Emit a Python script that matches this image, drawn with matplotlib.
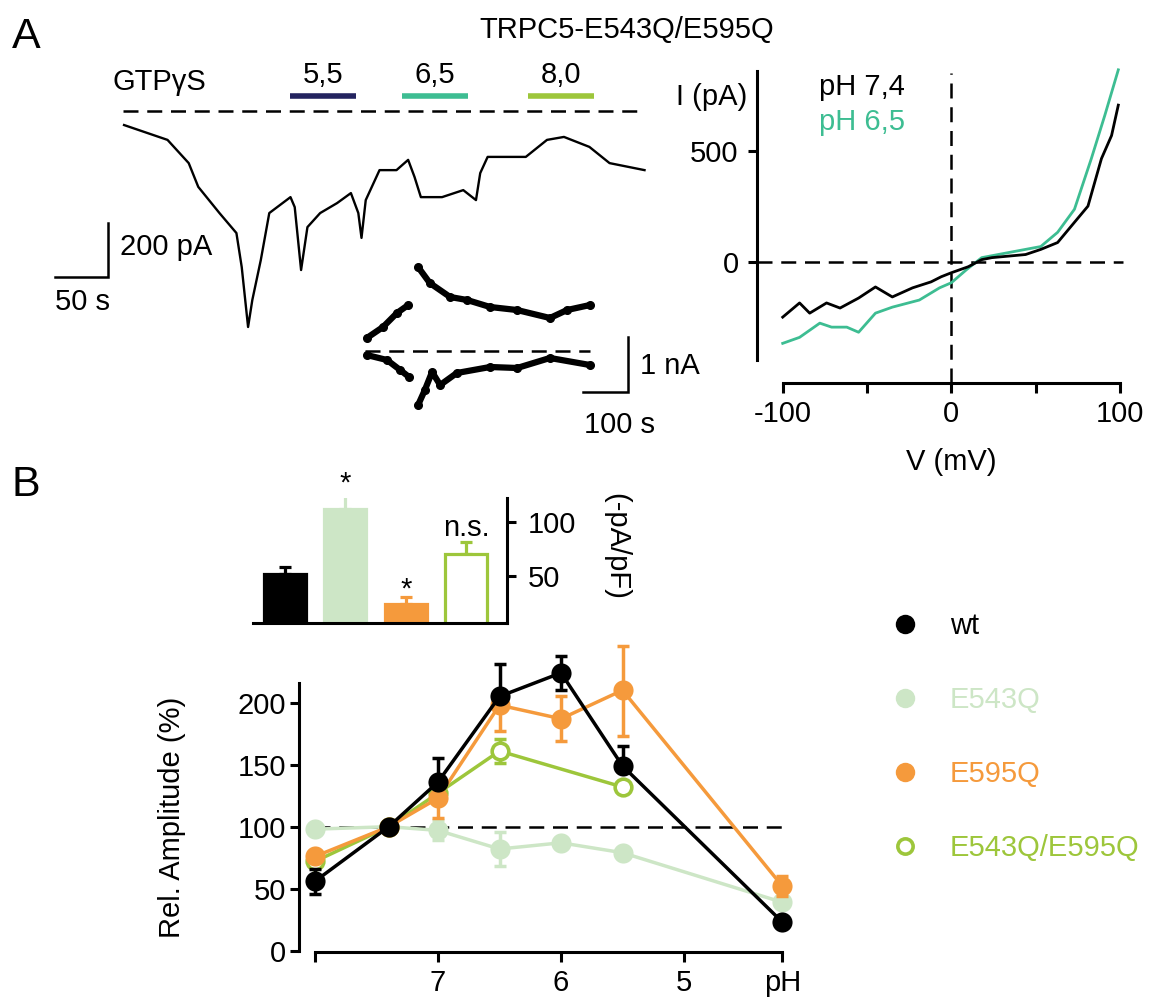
import numpy as np
import matplotlib.pyplot as plt
from matplotlib.lines import Line2D

FIG_W, FIG_H = 1151, 999      # 出力サイズ [px]
DPI = 100
FONT_SIZE = 21
LINE_WIDTH = 2.2
DASH = (0, (6, 3.5))

COLOR_WT = "black"
COLOR_E543Q = "#cde6c6"
COLOR_E595Q = "#f59a3c"
COLOR_DOUBLE = "#9dc63b"
COLOR_PH65 = "#3dbd92"

# --- A: GTPgS induced current of TRPC5-E543Q/E595Q ---
trace_t = [1, 42, 62, 71, 91, 107, 112, 118, 122, 130, 138, 158, 162, 168, 174, 186,
           202, 215, 222, 225, 229, 242, 258, 269, 275, 281, 301, 321, 333, 337, 344,
           380, 400, 416, 440, 459, 492]          # s
trace_i = [-52, -107, -193, -281, -378, -452, -578, -800, -700, -552, -378, -319, -356,
           -589, -430, -378, -341, -304, -378, -470, -330, -219, -219, -181, -244, -319,
           -319, -293, -330, -230, -170, -170, -107, -96, -133, -193, -219]   # pA

ph_labels = ["5,5", "6,5", "8,0"]
ph_start = [158, 263, 382]    # s
ph_stop = [220, 325, 444]
ph_colors = ["#23235f", COLOR_PH65, COLOR_DOUBLE]

# currents at +100 mV (outward) and -100 mV (inward)
inset_t_out = [4, 40, 71, 96, np.nan, 118, 144, 189, 227, 278, 338, 411, 449, 500]
inset_i_out = [236, 436, 691, 836, np.nan, 1527, 1236, 982, 927, 800, 745, 600, 745, 836]
inset_t_in = [4, 49, 78, 98, np.nan, 118, 133, 149, 167, 204, 278, 338, 411, 500]
inset_i_in = [-73, -164, -345, -473, np.nan, -982, -709, -382, -618, -400, -291, -309, -127, -255]

# I-V curves
iv_v_74 = [-100, -90, -84, -74, -66, -55, -45, -35, -23, -12, -6, 0, 10, 18, 24, 44, 53,
           63, 71, 81, 89, 95, 99]
iv_i_74 = [-250, -186, -232, -186, -209, -164, -114, -159, -118, -91, -68, -50, -23, 9,
           18, 32, 55, 86, 159, 250, 464, 568, 705]
iv_v_65 = [-100, -90, -78, -71, -62, -55, -45, -35, -19, -7, 0, 9, 18, 34, 53, 63, 73,
           83, 91, 99]
iv_i_65 = [-368, -341, -277, -295, -295, -318, -232, -205, -173, -118, -95, -36, 18, 41,
           68, 132, 236, 464, 659, 864]

# --- B: current densities ---
bar_density = [51.6, 112, 23.6, 70]     # -pA/pF
bar_sem = [6.5, 16, 6.5, 11]
bar_marks = ["", "*", "*", "n.s."]
bar_colors = [COLOR_WT, COLOR_E543Q, COLOR_E595Q, "white"]
bar_edges = [COLOR_WT, COLOR_E543Q, COLOR_E595Q, COLOR_DOUBLE]

# pH dependence (relative to pH 7,4)
ph_values = [8.0, 7.4, 7.0, 6.5, 6.0, 5.5, 4.2]
ph_double = [8.0, 7.4, 7.0, 6.5, 5.5]
rel_wt = [56, 100, 136, 205, 224, 149, 23]
rel_wt_lo = [10, 0, 0, 0, 14, 0, 0]
rel_wt_hi = [10, 0, 19, 26, 14, 16, 0]
rel_e543q = [98, 100, 97, 82, 87, 79, 39]
rel_e543q_err = [0, 0, 8, 14, 0, 0, 0]
rel_e595q = [76, 100, 123, 198, 187, 210, 52]
rel_e595q_lo = [0, 0, 16, 21, 18, 37, 8]
rel_e595q_hi = [0, 0, 16, 0, 18, 36, 8]
rel_double = [72, 100, 127, 161, 132]
rel_double_err = [0, 0, 0, 10, 0]

legend_names = ["wt", "E543Q", "E595Q", "E543Q/E595Q"]


def px_axes(fig, x0, y0, x1, y1):
    """ピクセル座標 (左上原点) で軸を作る"""
    return fig.add_axes([x0 / FIG_W, 1 - y1 / FIG_H, (x1 - x0) / FIG_W, (y1 - y0) / FIG_H])


def px_text(fig, x, y, s, **kw):
    """ピクセル座標でテキストを置く"""
    return fig.text(x / FIG_W, 1 - y / FIG_H, s, **kw)


def draw_trace(fig):
    """GTPgS電流のトレース"""
    ax = px_axes(fig, 40, 55, 660, 345)
    # 1.06 px/s, 0.27 px/pA, t=0 / I=0 at (123, 111) px
    ax.set_xlim((40 - 123) / 1.06, (660 - 123) / 1.06)
    ax.set_ylim((111 - 345) / 0.27, (111 - 55) / 0.27)
    ax.axis("off")

    ax.plot([0, trace_t[-1]], [0, 0], color="black", lw=1.8, ls=DASH)
    ax.plot(trace_t, trace_i, color="black", lw=1.7)

    for lab, t0, t1, c in zip(ph_labels, ph_start, ph_stop, ph_colors):
        ax.plot([t0, t1], [56, 56], color=c, lw=4, solid_capstyle="butt")
        ax.text((t0 + t1) / 2, 133, lab, ha="center", va="center")
    ax.text(-9.6, 108, "GTPγS", ha="left", va="center")

    # スケールバー 50 s / 200 pA
    sx, sy = -14.2, -615
    ax.plot([sx - 50, sx, sx], [sy, sy, sy + 200], color="black", lw=1.8,
            solid_joinstyle="miter")
    px_text(fig, 120, 247, "200 pA", ha="left", va="center")
    px_text(fig, 55, 302, "50 s", ha="left", va="center")


def draw_inset(fig):
    """+100 / -100 mV での電流の時間経過"""
    ax = px_axes(fig, 350, 250, 700, 450)
    # 0.45 px/s, 0.055 px/pA, t=0 / I=0 at (365, 351) px
    ax.set_xlim((350 - 365) / 0.45, (700 - 365) / 0.45)
    ax.set_ylim((351 - 450) / 0.055, (351 - 250) / 0.055)
    ax.axis("off")

    ax.plot([0, 500], [0, 0], color="black", lw=1.8, ls=DASH)
    for t, i in [(inset_t_out, inset_i_out), (inset_t_in, inset_i_in)]:
        ax.plot(t, i, color="black", lw=4.5, solid_capstyle="round",
                marker="o", ms=5.5)

    sx, sy = 584.4, -745.5
    ax.plot([sx - 100, sx, sx], [sy, sy, sy + 1000], color="black", lw=1.8,
            solid_joinstyle="miter", clip_on=False)
    px_text(fig, 640, 366, "1 nA", ha="left", va="center")
    px_text(fig, 620, 425, "100 s", ha="center", va="center")


def draw_iv(fig):
    """I-V カーブ"""
    ax = px_axes(fig, 782.7, 70.7, 1120, 360)
    ax.set_xlim(-100, 100)
    ax.set_ylim(-443, 860)
    for side in ["top", "right"]:
        ax.spines[side].set_visible(False)
    ax.spines["left"].set_position(("outward", 18.3))
    ax.spines["bottom"].set_position(("outward", 16.8))
    ax.set_xticks([-100, -50, 0, 50, 100], ["-100", "", "0", "", "100"])
    ax.set_yticks([0, 500], ["0", "500"])
    ax.tick_params(axis="x", length=7, pad=5)
    ax.tick_params(axis="y", length=6.5, pad=7)

    ax.plot([-115, 102], [0, 0], color="black", lw=1.8, ls=DASH, clip_on=False)
    ax.plot([0, 0], [-546, 849], color="black", lw=1.8, ls=DASH, clip_on=False)
    ax.plot(iv_v_65, iv_i_65, color=COLOR_PH65, lw=2, clip_on=False)
    ax.plot(iv_v_74, iv_i_74, color="black", lw=2, clip_on=False)

    px_text(fig, 747, 97, "I (pA)", ha="right", va="center")
    px_text(fig, 951, 462, "V (mV)", ha="center", va="center")
    px_text(fig, 819, 87, "pH 7,4", ha="left", va="center", color="black")
    px_text(fig, 819, 122, "pH 6,5", ha="left", va="center", color=COLOR_PH65)


def draw_bars(fig):
    """電流密度の棒グラフ"""
    ax = px_axes(fig, 253.3, 498.3, 506.7, 623.3)
    ax.set_xlim(-0.519, 3.669)
    ax.set_ylim(5.7, 122.1)
    for side in ["top", "left"]:
        ax.spines[side].set_visible(False)
    ax.yaxis.tick_right()
    ax.set_yticks([50, 100])
    ax.set_xticks([])
    ax.tick_params(axis="y", length=6.5, pad=9)

    x = np.arange(len(bar_density))
    ax.bar(x, bar_density, width=0.7, color=bar_colors, edgecolor=bar_edges,
           linewidth=2.3, zorder=2)
    for xi, v, e, c, m in zip(x, bar_density, bar_sem, bar_edges, bar_marks):
        ax.errorbar(xi, v, yerr=[[0], [e]], fmt="none", ecolor=c, elinewidth=2.3,
                    capsize=4, capthick=2.3, zorder=1)
        ax.text(xi, v + e + (6 if m == "n.s." else 0), m, ha="center", va="baseline")

    px_text(fig, 616.7, 546.7, "(-pA/pF)", ha="center", va="center", rotation=270)


def plot_series(ax, x, y, lo, hi, color, zorder, hollow=False):
    """線+マーカーと誤差棒 (誤差がある点のみ)"""
    face = "white" if hollow else color
    ms = 12 if hollow else 14.5
    ax.plot(x, y, color=color, lw=2.5, marker="o", ms=ms, mfc=face,
            mec=color, mew=2.6 if hollow else 0, zorder=zorder + 0.1, clip_on=False)
    idx = [k for k in range(len(x)) if lo[k] > 0 or hi[k] > 0]
    if idx:
        ax.errorbar([x[k] for k in idx], [y[k] for k in idx],
                    yerr=[[lo[k] for k in idx], [hi[k] for k in idx]], fmt="none",
                    ecolor=color, elinewidth=2.5, capsize=4.3, capthick=2.5,
                    zorder=zorder, clip_on=False)


def draw_ph(fig):
    """pH依存性"""
    ax = px_axes(fig, 315, 683.3, 782.4, 950.7)
    ax.set_xlim(8, 4.2)
    ax.set_ylim(0, 215.6)
    for side in ["top", "right"]:
        ax.spines[side].set_visible(False)
    ax.spines["left"].set_position(("outward", 11.5))
    ax.spines["bottom"].set_position(("outward", 1))
    ax.set_xticks([8, 7, 6, 5, 4.2], ["", "7", "6", "5", "pH"])
    ax.set_yticks([0, 50, 100, 150, 200])
    ax.tick_params(axis="x", length=7, pad=5)
    ax.tick_params(axis="y", length=6.3, pad=3)

    ax.plot([8, 4.2], [100, 100], color="black", lw=1.8, ls=DASH, zorder=0.5)
    plot_series(ax, ph_values, rel_e543q, rel_e543q_err, rel_e543q_err, COLOR_E543Q, 1)
    plot_series(ax, ph_double, rel_double, rel_double_err, rel_double_err, COLOR_DOUBLE, 2,
                hollow=True)
    plot_series(ax, ph_values, rel_e595q, rel_e595q_lo, rel_e595q_hi, COLOR_E595Q, 3)
    plot_series(ax, ph_values, rel_wt, rel_wt_lo, rel_wt_hi, COLOR_WT, 4)

    px_text(fig, 172, 817, "Rel. Amplitude (%)", ha="center", va="center", rotation=90)

    colors = [COLOR_WT, COLOR_E543Q, COLOR_E595Q, COLOR_DOUBLE]
    handles = []
    for name, c in zip(legend_names, colors):
        hollow = c == COLOR_DOUBLE
        handles.append(Line2D([], [], ls="none", marker="o", ms=11 if hollow else 14,
                              mfc="white" if hollow else c, mec=c,
                              mew=2.6 if hollow else 0, label=name))
    fig.legend(handles=handles, loc="center left", bbox_to_anchor=(890 / FIG_W, 1 - 737 / FIG_H),
               frameon=False, handlelength=1.0, handletextpad=1.05, labelspacing=1.58,
               borderpad=0, borderaxespad=0, labelcolor=colors, fontsize=FONT_SIZE)


def main():
    plt.rcParams["font.family"] = ["Liberation Sans", "DejaVu Sans"]
    plt.rcParams["font.size"] = FONT_SIZE
    plt.rcParams["axes.linewidth"] = LINE_WIDTH
    plt.rcParams["xtick.major.width"] = LINE_WIDTH
    plt.rcParams["ytick.major.width"] = LINE_WIDTH

    fig = plt.figure(figsize=(FIG_W / DPI, FIG_H / DPI), dpi=DPI)

    px_text(fig, 26, 37, "A", ha="center", va="center", fontsize=31)
    px_text(fig, 26, 485, "B", ha="center", va="center", fontsize=31)
    px_text(fig, 627, 30, "TRPC5-E543Q/E595Q", ha="center", va="center")

    draw_trace(fig)
    draw_inset(fig)
    draw_iv(fig)
    draw_bars(fig)
    draw_ph(fig)

    fig.savefig("out.png", dpi=DPI)


if __name__ == "__main__":
    main()
